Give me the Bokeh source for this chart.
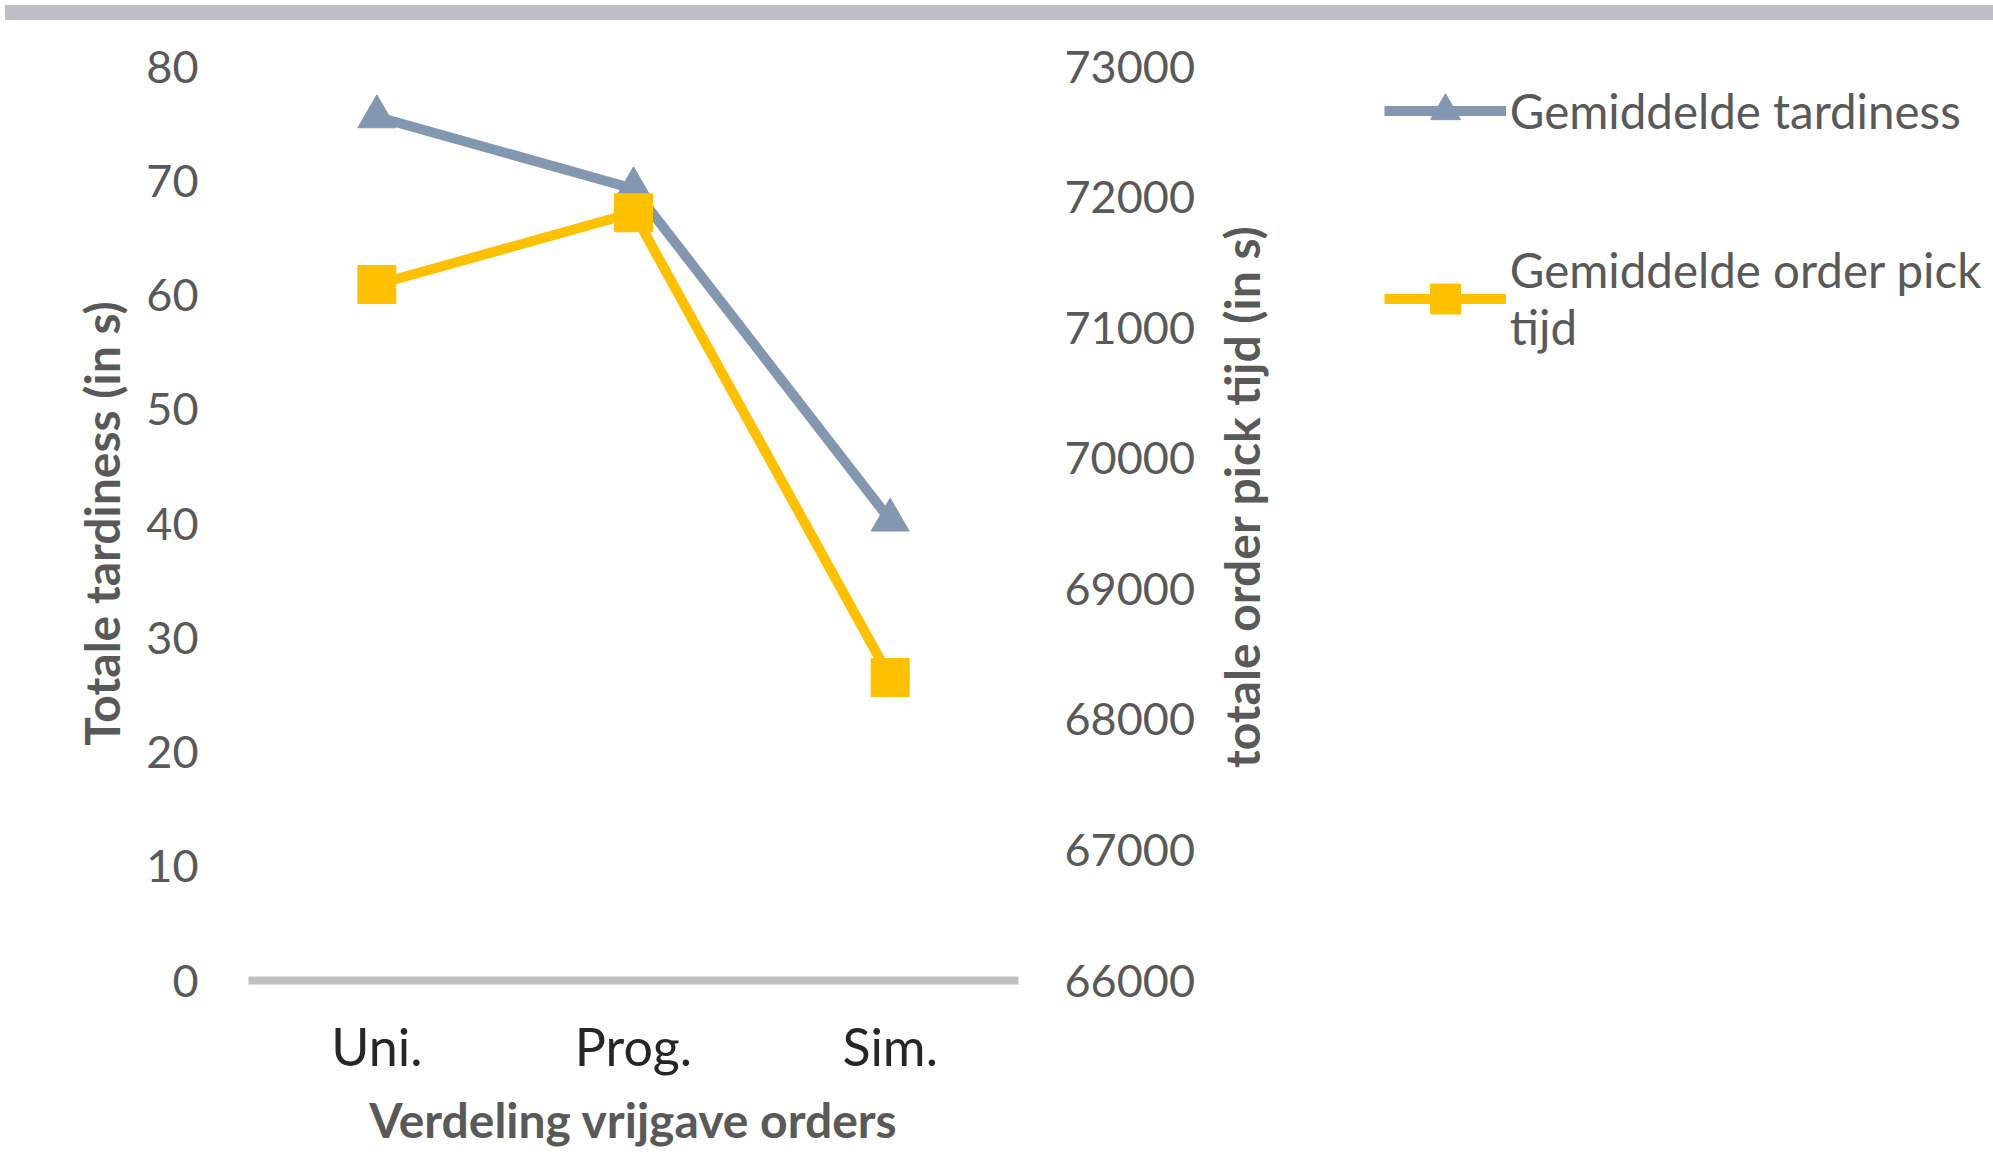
from bokeh.plotting import figure
from bokeh.models import (Range1d, LinearAxis, FixedTicker, NumeralTickFormatter,
                          Legend, LegendItem, Div, FactorRange)
from bokeh.layouts import column
from bokeh.embed import file_html
from bokeh.resources import INLINE

# ---- data ----
categories = ["Uni.", "Prog.", "Sim."]
tardiness = [75.6, 69.3, 40.3]
pick_time = [71330, 71880, 68320]
left_ticks = [0, 10, 20, 30, 40, 50, 60, 70, 80]
right_ticks = [66000, 67000, 68000, 69000, 70000, 71000, 72000, 73000]
series_names = ["Gemiddelde tardiness", "Gemiddelde order pick\ntijd"]
x_title = "Verdeling vrijgave orders"
left_title = "Totale tardiness (in s)"
right_title = "totale order pick tijd (in s)"

FONT = "Lato"
BLUE = "#8497B0"
YELLOW = "#FFC000"
TEXT = "#595959"

FIG_W = 2356
p = figure(x_range=FactorRange(*categories), y_range=Range1d(0, 80),
           width=FIG_W, height=1132, output_backend="svg", toolbar_location=None,
           min_border_left=248, min_border_right=FIG_W - 1018, min_border_top=41,
           min_border_bottom=177)
p.extra_y_ranges = {"pick": Range1d(66000, 73000)}
p.outline_line_color = None
p.xgrid.visible = False
p.ygrid.visible = False
p.background_fill_color = "white"
p.border_fill_color = "white"

# x axis
xa = p.xaxis[0]
xa.axis_line_color = "#BFBFBF"
xa.axis_line_width = 8
xa.major_tick_line_color = None
xa.minor_tick_line_color = None
xa.major_label_text_font = FONT
xa.major_label_text_font_size = "52px"
xa.major_label_text_color = "#262626"
xa.major_label_standoff = 28
xa.axis_label = x_title
xa.axis_label_text_font = FONT
xa.axis_label_text_font_size = "48px"
xa.axis_label_text_font_style = "bold"
xa.axis_label_text_color = TEXT
xa.axis_label_standoff = 11

# left axis
ya = p.yaxis[0]
ya.ticker = FixedTicker(ticks=left_ticks)
ya.axis_line_color = None
ya.major_tick_line_color = None
ya.minor_tick_line_color = None
ya.major_label_text_font = FONT
ya.major_label_text_font_size = "45px"
ya.major_label_text_color = TEXT
ya.major_label_standoff = 44
ya.axis_label = left_title
ya.axis_label_text_font = FONT
ya.axis_label_text_font_size = "48px"
ya.axis_label_text_font_style = "bold"
ya.axis_label_text_color = TEXT
ya.axis_label_standoff = 13

# right axis (tick labels; its title is drawn rotated as the legend title)
ra = LinearAxis(y_range_name="pick", ticker=FixedTicker(ticks=right_ticks),
                formatter=NumeralTickFormatter(format="0"))
ra.axis_line_color = None
ra.major_tick_line_color = None
ra.minor_tick_line_color = None
ra.major_label_text_font = FONT
ra.major_label_text_font_size = "45px"
ra.major_label_text_color = TEXT
ra.major_label_standoff = 40
p.add_layout(ra, "right")

# series
l1 = p.line(categories, tardiness, line_color=BLUE, line_width=10)
m1 = p.scatter(categories, tardiness, marker="triangle", size=38,
               fill_color=BLUE, line_color=BLUE)
l2 = p.line(categories, pick_time, y_range_name="pick", line_color=YELLOW, line_width=10)
m2 = p.scatter(categories, pick_time, y_range_name="pick", marker="square", size=38,
               fill_color=YELLOW, line_color=YELLOW)

items = [LegendItem(label=series_names[0], renderers=[l1, m1]),
         LegendItem(label=series_names[1], renderers=[l2, m2]),
         LegendItem(label=" ", renderers=[]),
         LegendItem(label=" ", renderers=[])]
leg = Legend(items=items, location=(-180, 212), orientation="vertical",
             title=right_title, title_location="left", title_standoff=114,
             title_text_font=FONT, title_text_font_size="48px",
             title_text_font_style="bold", title_text_color=TEXT,
             glyph_width=122, glyph_height=75, label_height=188,
             label_standoff=4, padding=0, margin=0, spacing=0,
             border_line_color=None, background_fill_alpha=0,
             label_text_font=FONT, label_text_font_size="47.5px",
             label_text_color=TEXT)
p.add_layout(leg, "right")

band = Div(width=FIG_W, height=15, styles={"background-color": "#BEBFC6"})
layout = column(band, p, spacing=0)

open("out.html", "w").write(file_html(layout, INLINE))
